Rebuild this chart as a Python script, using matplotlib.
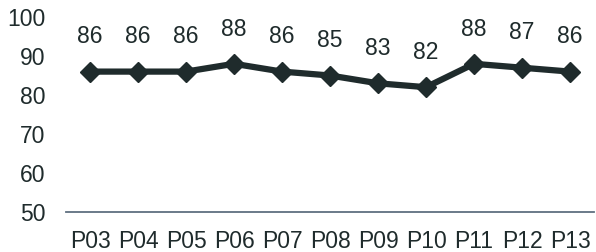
import matplotlib.pyplot as plt

cats = ["P03", "P04", "P05", "P06", "P07", "P08", "P09", "P10", "P11", "P12", "P13"]
vals = [86, 86, 86, 88, 86, 85, 83, 82, 88, 87, 86]
yticks = [50, 60, 70, 80, 90, 100]

dark = "#1f2b2c"
plt.rcParams['font.family'] = ['Liberation Sans', 'DejaVu Sans']

fig = plt.figure(figsize=(5.96, 2.52), dpi=100)
ax = fig.add_axes([66 / 596, 40 / 252, 528 / 596, 195 / 252])
x = list(range(len(cats)))
ax.plot(x, vals, color=dark, lw=4.5, marker='D', markersize=10, zorder=3)
for xi, v in zip(x, vals):
    ax.annotate(str(v), (xi, v), xytext=(0, 25), textcoords='offset points',
                ha='center', va='center', fontsize=16.5, color=dark)

ax.set_xlim(-0.5, len(cats) - 0.5)
ax.set_ylim(50, 100)
ax.set_yticks(yticks)
ax.set_xticks(x)
ax.set_xticklabels(cats)
ax.tick_params(axis='both', length=0, labelsize=16.5, colors=dark)
ax.tick_params(axis='x', pad=13)
ax.tick_params(axis='y', pad=15)
for s in ['top', 'right', 'left']:
    ax.spines[s].set_visible(False)
ax.spines['bottom'].set_color('#5f7080')
ax.spines['bottom'].set_linewidth(1.3)

fig.savefig("out.png", dpi=100)
